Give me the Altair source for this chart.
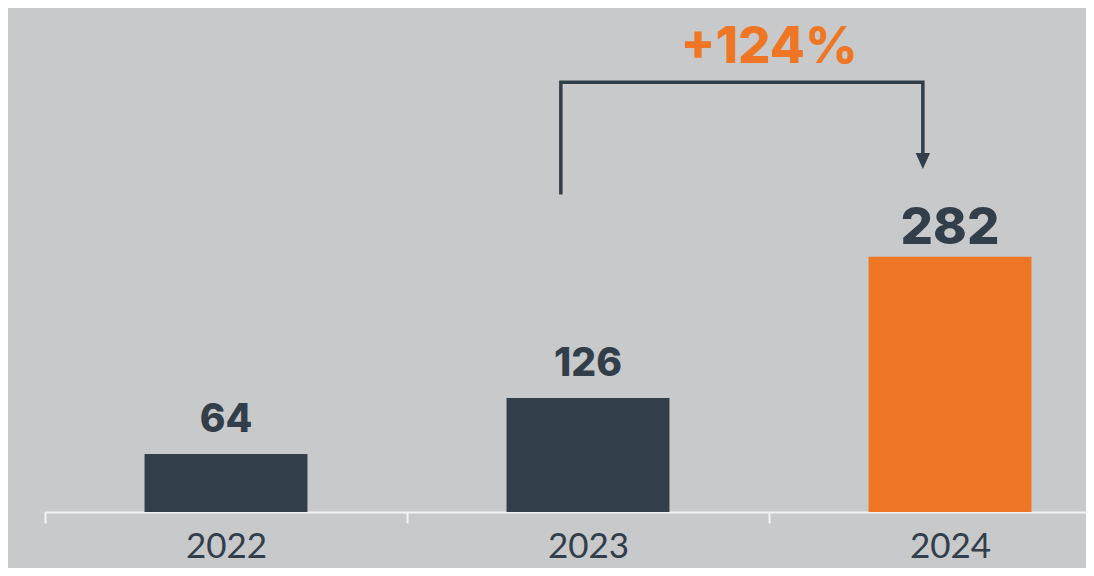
import altair as alt
import pandas as pd

# ---- data ----
years = ["2022", "2023", "2024"]
values = [64, 126, 282]
groups = ["base", "base", "highlight"]

# bracket annotation (data units)
bracket_years = ["2023", "2023", "2024", "2024"]
bracket_values = [351, 475, 475, 392]
bracket_order = [0, 1, 2, 3]
arrow_years = ["2024"]
arrow_values = [388]
change_years = ["2024"]
change_values = [496]

DARK = "#323e49"
ORANGE = "#ef7625"
BG = "#c8c9cb"

df = pd.DataFrame({"year": years, "value": values, "group": groups})
pct = round((values[2] - values[1]) / values[1] * 100)
df_change = pd.DataFrame({"year": change_years, "value": change_values,
                          "label": [f"+{pct}%"]})
df_bracket = pd.DataFrame({"year": bracket_years, "value": bracket_values,
                           "order": bracket_order})
df_arrow = pd.DataFrame({"year": arrow_years, "value": arrow_values})

xscale = alt.Scale(domain=years, range=[0, 1086], paddingInner=0, paddingOuter=0)
yscale = alt.Scale(domain=[0, 557])

x_axis = alt.Axis(
    title=None, domainColor="#f3f3f3", domainWidth=2, tickColor="#f3f3f3",
    tickWidth=2, tickSize=11, tickBand="extent", labelFontSize=35,
    labelFont="Lato", labelColor=DARK, labelPadding=6, labelAngle=0,
    grid=False,
)


def X(**kw):
    return alt.X("year:N", scale=xscale, axis=x_axis, sort=years, **kw)


def Y():
    return alt.Y("value:Q", scale=yscale, axis=None)


base = alt.Chart(df)

bars = base.mark_bar(width=alt.RelativeBandSize(0.45)).encode(
    x=X(),
    y=Y(),
    color=alt.Color("group:N", scale=alt.Scale(domain=["base", "highlight"],
                                               range=[DARK, ORANGE]), legend=None),
)

labels_small = base.transform_filter(alt.datum.group == "base").mark_text(
    font="Inter", fontWeight=800, fontSize=39, color=DARK,
    baseline="alphabetic", dy=-22,
).encode(x=X(), y=Y(), text="value:Q")

labels_big = base.transform_filter(alt.datum.group == "highlight").mark_text(
    font="Inter", fontWeight=800, fontSize=51, color=DARK,
    baseline="alphabetic", dy=-13,
).encode(x=X(), y=Y(), text="value:Q")

bracket = alt.Chart(df_bracket).mark_line(
    color=DARK, strokeWidth=3.5, strokeJoin="miter", strokeCap="butt",
).encode(x=X(bandPosition=0.425), y=Y(), order=alt.Order("order:Q"))

arrow = alt.Chart(df_arrow).mark_point(
    shape="M-0.9,-1L0.9,-1L0,1Z", filled=True, size=256, color=DARK, opacity=1,
).encode(x=X(bandPosition=0.425), y=Y())

change = alt.Chart(df_change).mark_text(
    font="Inter", fontWeight=800, fontSize=51, color=ORANGE,
    baseline="alphabetic",
).encode(x=X(bandPosition=0), y=Y(), text="label:N")

chart = alt.layer(bars, labels_small, labels_big, bracket, arrow, change).properties(
    width=1041, height=504,
    autosize=alt.AutoSizeParams(type="none"),
    padding={"left": 37, "top": 0, "right": 0, "bottom": 56},
    background=BG,
).configure_view(stroke=None)

chart.save("out.html", embed_options={"renderer": "svg", "actions": False})
